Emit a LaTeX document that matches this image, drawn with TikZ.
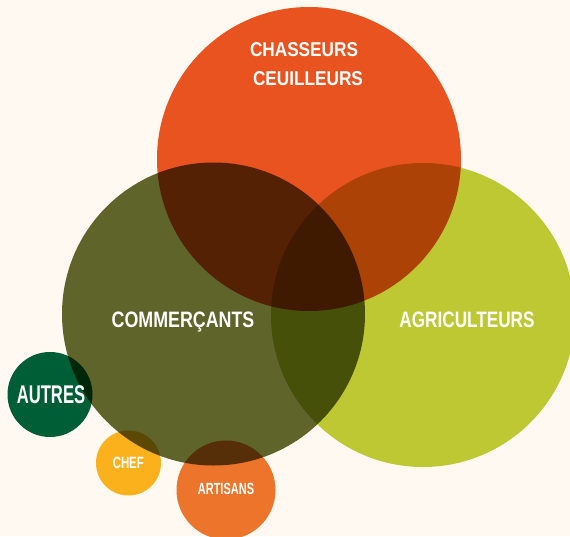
\documentclass[tikz,border=0pt]{standalone}
\usepackage{fontspec}
\usepackage{graphicx}
\newfontfamily\lblfont{Liberation Sans}
% condensed bold label: xscale, size, text
\newcommand\grouplabel[3]{\scalebox{#1}[1]{\fontsize{#2}{#2}\selectfont\lblfont\bfseries #3}}
\definecolor{paper}{HTML}{FFF9F1}
\definecolor{hunters}{HTML}{E85621}
\definecolor{traders}{HTML}{5E672D}
\definecolor{farmers}{HTML}{BECD36}
\definecolor{others}{HTML}{00613A}
\definecolor{chefs}{HTML}{FBB61E}
\definecolor{crafts}{HTML}{EC772E}
\tikzset{
  blob/.style={circle, fill=#1, draw=none, inner sep=0},
  lbl/.style={text=white, inner sep=0, anchor=base},
}
\begin{document}
\begin{tikzpicture}[x=1pt, y=-1pt]
  \fill[paper] (0,0) rectangle (570,536);
  \useasboundingbox (0,0) rectangle (570,536);
  \begin{scope}[blend mode=multiply]
    \fill[hunters] (309,159) circle (152);
    \fill[traders] (213.5,314) circle (151.5);
    \fill[farmers] (423,315) circle (152);
    \fill[others] (50,394.5) circle (42.5);
    \fill[chefs] (128.5,463) circle (32.5);
    \fill[crafts] (226,490) circle (49.5);
  \end{scope}
  \node[lbl] (hunt1) at (304,56.7) {\grouplabel{0.86}{20}{CHASSEURS}};
  \node[lbl] (hunt2) at (308,85) {\grouplabel{0.86}{20}{CEUILLEURS}};
  \node[lbl] (trade) at (183,327.7) {\grouplabel{0.80}{22.3}{COMMERÇANTS}};
  \node[lbl] (farm) at (467,327.7) {\grouplabel{0.77}{22.3}{AGRICULTEURS}};
  \node[lbl] (other) at (51,403) {\grouplabel{0.65}{25.6}{AUTRES}};
  \node[lbl] (chef) at (128.3,468.3) {\grouplabel{0.70}{16.3}{CHEF}};
  \node[lbl] (craft) at (226,494.3) {\grouplabel{0.68}{16.2}{ARTISANS}};
\end{tikzpicture}
\end{document}
